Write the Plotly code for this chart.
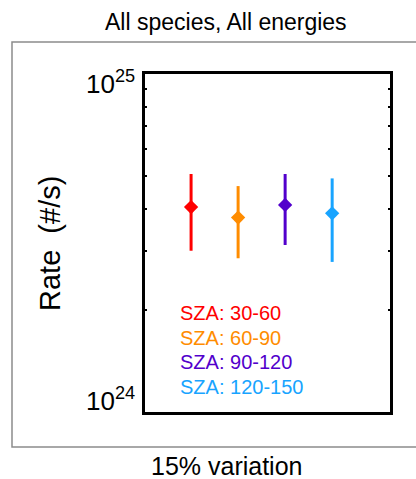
import math
import plotly.graph_objects as go

# Production rate per solar-zenith-angle bin, all species and energies
sza_bins = ["SZA: 30-60", "SZA: 60-90", "SZA: 90-120", "SZA: 120-150"]
bin_index = [1, 2, 3, 4]
rate = [4.04e24, 3.76e24, 4.10e24, 3.87e24]
rate_upper = [5.06e24, 4.66e24, 5.06e24, 4.91e24]
rate_lower = [3.00e24, 2.85e24, 3.12e24, 2.78e24]
colors = ["#FF0000", "#FF8C00", "#5200CC", "#18A4FF"]

minor_ticks = [k * 1e24 for k in range(2, 10)]
# (value, label, vertical anchor, pixel nudge)
decade_labels = [(1e25, "10<sup>25</sup>", "top", 10), (1e24, "10<sup>24</sup>", "bottom", -6)]

FONT = "Liberation Sans, Arial, Helvetica, sans-serif"

fig = go.Figure()
for x, y, hi, lo, c, name in zip(bin_index, rate, rate_upper, rate_lower, colors, sza_bins):
    fig.add_trace(go.Scatter(
        x=[x], y=[y], mode="markers", name=name,
        marker=dict(symbol="diamond", size=11, color=c, line=dict(width=0)),
        error_y=dict(type="data", symmetric=False, array=[hi - y], arrayminus=[y - lo],
                     color=c, thickness=3, width=0),
        showlegend=False,
    ))

W, H = 416, 479
L, R, T, B = 145, 26, 74, 67
pw, ph = W - L - R, H - T - B

def px(xpix):
    return (xpix - L) / pw

def py(ypix):
    return (H - B - ypix) / ph

annotations = []
# Decade labels on the rate axis (annotation y on a log axis is in log10 units)
for val, txt, anchor, nudge in decade_labels:
    annotations.append(dict(x=px(137), xref="paper", y=math.log10(val), yref="y", text=txt,
                            showarrow=False, xanchor="right", yanchor=anchor, yshift=nudge,
                            font=dict(family=FONT, size=26, color="black")))
# Colour-coded bin labels
legend_y = [313, 338, 362, 387]
for name, c, yp in zip(sza_bins, colors, legend_y):
    annotations.append(dict(x=px(178), xref="paper", y=py(yp), yref="paper", text=name,
                            showarrow=False, xanchor="left", yanchor="middle",
                            font=dict(family=FONT, size=20, color=c)))
annotations += [
    dict(x=px(226), xref="paper", y=py(22), yref="paper", text="All species, All energies",
         showarrow=False, xanchor="center", yanchor="middle",
         font=dict(family=FONT, size=23, color="black")),
    dict(x=px(226), xref="paper", y=py(466), yref="paper", text="15% variation",
         showarrow=False, xanchor="center", yanchor="middle",
         font=dict(family=FONT, size=25, color="black")),
    dict(x=px(50), xref="paper", y=py(244), yref="paper", text="Rate  (#/s)",
         showarrow=False, xanchor="center", yanchor="middle", textangle=-90,
         font=dict(family=FONT, size=29, color="black")),
]

fig.update_layout(
    width=W, height=H,
    margin=dict(l=L, r=R, t=T, b=B, pad=0),
    paper_bgcolor="white", plot_bgcolor="white",
    showlegend=False,
    annotations=annotations,
    shapes=[dict(type="rect", xref="paper", yref="paper",
                 x0=px(12), x1=px(430), y0=py(447), y1=py(42),
                 line=dict(color="#8C8C8C", width=1.5), layer="below")],
)
fig.update_xaxes(range=[0.02, 5.23], showgrid=False, zeroline=False,
                 showline=True, linecolor="black", linewidth=3, mirror=True,
                 ticks="", showticklabels=False)
fig.update_yaxes(type="log", range=[24, 25], showgrid=False, zeroline=False,
                 showline=True, linecolor="black", linewidth=3, mirror="ticks",
                 ticks="inside", tickvals=minor_ticks, ticklen=2, tickwidth=1.5,
                 tickcolor="black", showticklabels=False)

fig.write_html("out.html")
